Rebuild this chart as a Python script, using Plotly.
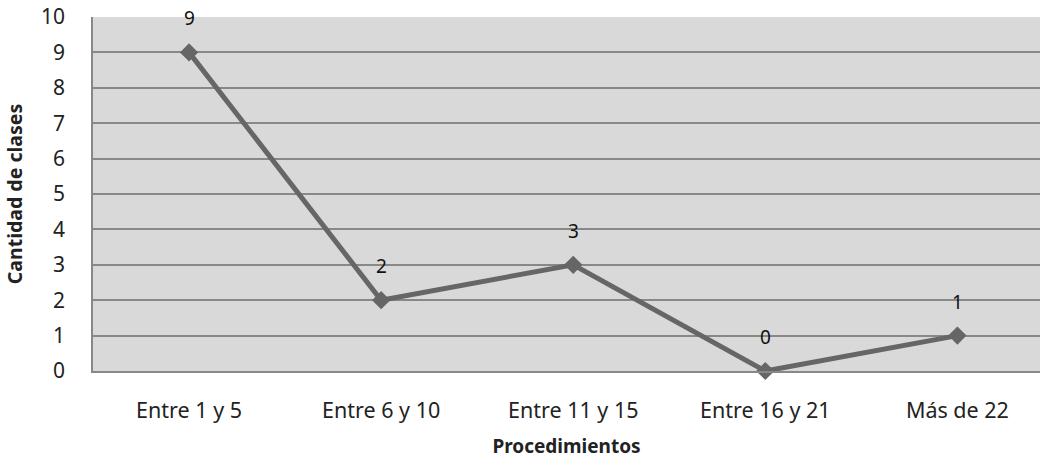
import plotly.graph_objects as go

categories = ["Entre 1 y 5", "Entre 6 y 10", "Entre 11 y 15", "Entre 16 y 21", "Más de 22"]
values = [9, 2, 3, 0, 1]
y_ticks = list(range(0, 11))

font_family = "'Noto Sans', 'Open Sans', sans-serif"

fig = go.Figure()
fig.add_trace(go.Scatter(
    x=list(range(len(categories))), y=values, mode="lines+markers",
    line=dict(color="#666666", width=5),
    marker=dict(symbol="diamond", size=14, color="#666666"),
    cliponaxis=False, showlegend=False,
))
for i, v in enumerate(values):
    fig.add_annotation(x=i, y=v, text=str(v), showarrow=False, yshift=34,
                       font=dict(size=19, color="#111111", family=font_family))

fig.update_layout(
    width=1040, height=459,
    margin=dict(l=93, r=0, t=17, b=88),
    paper_bgcolor="white", plot_bgcolor="#d9d9d9",
    font=dict(family=font_family, size=19, color="#222222"),
)
fig.update_xaxes(
    range=[-0.5, 4.43], tickmode="array", tickvals=list(range(len(categories))),
    ticktext=categories, showgrid=False, zeroline=False,
    showline=True, linecolor="#888888", linewidth=1.5, ticks="",
    ticklabelstandoff=19, tickfont=dict(size=21.5),
    title=dict(text="<b>Procedimientos</b>", font=dict(size=19), standoff=19),
)
fig.update_yaxes(
    range=[0, 10], tickvals=y_ticks, showgrid=True, gridcolor="#888888", gridwidth=1.5,
    zeroline=False, showline=True, linecolor="#888888", linewidth=1.5, ticks="",
    ticklabelstandoff=22, tickfont=dict(size=21),
    title=dict(text="<b>Cantidad de clases</b>", font=dict(size=19.5), standoff=13),
)
fig.write_html("out.html")
